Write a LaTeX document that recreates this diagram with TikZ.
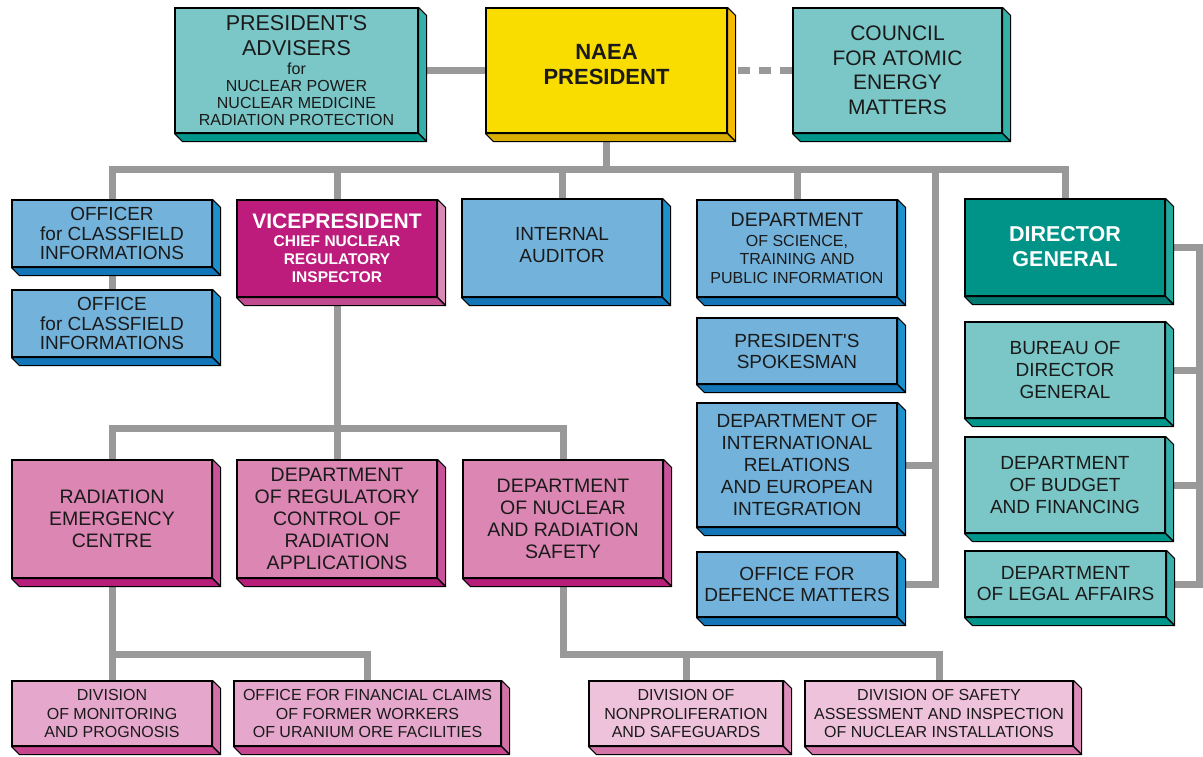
\documentclass[tikz,border=0pt]{standalone}
\usepackage{fontspec}
\setmainfont{Liberation Sans}[Ligatures=TeXOff]
\definecolor{tealF}{HTML}{7BC6C7}
\definecolor{tealS}{HTML}{35B0AA}
\definecolor{tealB}{HTML}{00968C}
\definecolor{yelF}{HTML}{FADD00}
\definecolor{yelS}{HTML}{F4BC00}
\definecolor{yelB}{HTML}{DAAE00}
\definecolor{bluF}{HTML}{72B2DB}
\definecolor{bluS}{HTML}{1C91CC}
\definecolor{bluB}{HTML}{1276B9}
\definecolor{vpF}{HTML}{BE1C7C}
\definecolor{vpS}{HTML}{DA88B6}
\definecolor{vpB}{HTML}{C24A8E}
\definecolor{dgF}{HTML}{009488}
\definecolor{dgS}{HTML}{22A99D}
\definecolor{dgB}{HTML}{007A70}
\definecolor{pkF}{HTML}{DC86B3}
\definecolor{pkS}{HTML}{C9529A}
\definecolor{pkB}{HTML}{B61E7A}
\definecolor{plF}{HTML}{E5A7CB}
\definecolor{plS}{HTML}{D271A8}
\definecolor{plB}{HTML}{C8468F}
\definecolor{pxF}{HTML}{EEC2DB}
\definecolor{pxS}{HTML}{DE8DBA}
\definecolor{pxB}{HTML}{D474A9}
\definecolor{lineG}{HTML}{999999}
\definecolor{txt}{HTML}{1A1A1A}
\newcommand\fs[2]{\fontsize{#1}{#2}\selectfont}
\pgfdeclarelayer{bg}
\pgfsetlayers{bg,main}
\tikzset{
  b3d/.style n args={3}{draw=black, line width=1.1pt, fill=#1, inner sep=0pt,
    align=center, text=txt, rectangle,
    append after command={\pgfextra{\let\mainnode=\tikzlastnode
      \filldraw[fill=#2, draw=black, line width=1.1pt, line join=round]
        (\mainnode.north east) -- ++(8,8) -- ([shift={(8,8)}]\mainnode.south east)
        -- (\mainnode.south east) -- cycle;
      \filldraw[fill=#3, draw=black, line width=1.1pt, line join=round]
        (\mainnode.south west) -- ++(8,8) -- ([shift={(8,8)}]\mainnode.south east)
        -- (\mainnode.south east) -- cycle;
    }}},
  tealbox/.style={b3d={tealF}{tealS}{tealB}},
  bluebox/.style={b3d={bluF}{bluS}{bluB}},
  pinkbox/.style={b3d={pkF}{pkS}{pkB}},
  plbox/.style={b3d={plF}{plS}{plB}},
  pxbox/.style={b3d={pxF}{pxS}{pxB}},
  conn/.style={draw=lineG, line width=7pt, line join=miter},
  big/.style={font=\fs{19}{22}},
  small/.style={font=\fs{16}{18.5}},
}
\begin{document}
\begin{tikzpicture}[x=1pt,y=-1pt]
\useasboundingbox (0,0) rectangle (1203,756);
% top row
\node[tealbox, minimum width=243, minimum height=125, font=\fs{16}{17}] (adv) at (296.5,70.5)
  {{\fs{21.5}{25}PRESIDENT'S}\\[8pt]{\fs{21.5}{25}ADVISERS}\\[2pt]for\\NUCLEAR POWER\\NUCLEAR MEDICINE\\RADIATION PROTECTION};
\node[b3d={yelF}{yelS}{yelB}, minimum width=241, minimum height=125, font=\bfseries\fs{22}{25}, text depth=12pt] (pres) at (606.5,70.5)
  {NAEA\\PRESIDENT};
\node[tealbox, minimum width=209, minimum height=125, font=\fs{21}{24.5}] (council) at (897.5,70.5)
  {COUNCIL\\FOR ATOMIC\\ENERGY\\MATTERS};
% second row
\node[bluebox, minimum width=200, minimum height=67, font=\fs{19}{19.5}] (off) at (112,233.5)
  {OFFICER\\for CLASSFIELD\\INFORMATIONS};
\node[bluebox, minimum width=200, minimum height=67, font=\fs{19}{19.5}] (ofc) at (112,323.5)
  {OFFICE\\for CLASSFIELD\\INFORMATIONS};
\node[b3d={vpF}{vpS}{vpB}, minimum width=200, minimum height=97, font=\bfseries\fs{15.5}{18}, text=white] (vp) at (337,248.5)
  {{\fs{21}{24}VICEPRESIDENT}\\CHIEF NUCLEAR\\REGULATORY\\INSPECTOR};
\node[bluebox, big, minimum width=200, minimum height=98, text depth=6pt] (ia) at (562,248)
  {INTERNAL\\AUDITOR};
\node[bluebox, minimum width=200, minimum height=97, font=\fs{16}{18.7}] (sci) at (797,248.5)
  {{\fs{19.5}{22}DEPARTMENT}\\[1pt]OF SCIENCE,\\TRAINING AND\\PUBLIC INFORMATION};
\node[b3d={dgF}{dgS}{dgB}, minimum width=200, minimum height=97, font=\bfseries\fs{21.5}{25}, text=white, text depth=3pt] (dg) at (1065,247.5)
  {DIRECTOR\\GENERAL};
% right column stacks
\node[bluebox, minimum width=200, minimum height=66, font=\fs{19}{21}] (spk) at (797,351)
  {PRESIDENT'S\\SPOKESMAN};
\node[bluebox, big, minimum width=200, minimum height=124] (intl) at (797,465)
  {DEPARTMENT OF\\INTERNATIONAL\\RELATIONS\\AND EUROPEAN\\INTEGRATION};
\node[bluebox, minimum width=200, minimum height=65, font=\fs{19}{21}] (def) at (797,584.5)
  {OFFICE FOR\\DEFENCE MATTERS};
\node[tealbox, big, minimum width=200, minimum height=96] (bur) at (1065,370)
  {BUREAU OF\\DIRECTOR\\GENERAL};
\node[tealbox, big, minimum width=200, minimum height=96] (bud) at (1065,485)
  {DEPARTMENT\\OF BUDGET\\AND FINANCING};
\node[tealbox, minimum width=201, minimum height=66, font=\fs{19}{21}] (leg) at (1065.5,584)
  {DEPARTMENT\\OF LEGAL AFFAIRS};
% pink level
\node[pinkbox, font=\fs{19.5}{22}, minimum width=200, minimum height=118] (rad) at (112,519)
  {RADIATION\\EMERGENCY\\CENTRE};
\node[pinkbox, font=\fs{19.5}{22}, minimum width=200, minimum height=118] (reg) at (337,519)
  {DEPARTMENT\\OF REGULATORY\\CONTROL OF\\RADIATION\\APPLICATIONS};
\node[pinkbox, font=\fs{19.5}{22}, minimum width=200, minimum height=118] (nsf) at (563,519)
  {DEPARTMENT\\OF NUCLEAR\\AND RADIATION\\SAFETY};
% bottom level
\node[plbox, small, minimum width=200, minimum height=65] (mon) at (112,713.5)
  {DIVISION\\OF MONITORING\\AND PROGNOSIS};
\node[plbox, small, minimum width=267, minimum height=65] (fin) at (367.5,713.5)
  {OFFICE FOR FINANCIAL CLAIMS\\OF FORMER WORKERS\\OF URANIUM ORE FACILITIES};
\node[pxbox, small, minimum width=194, minimum height=65] (np) at (686,713.5)
  {DIVISION OF\\NONPROLIFERATION\\AND SAFEGUARDS};
\node[pxbox, small, minimum width=268, minimum height=65] (sas) at (939,713.5)
  {DIVISION OF SAFETY\\ASSESSMENT AND INSPECTION\\OF NUCLEAR INSTALLATIONS};
% helper coordinates
\coordinate (bus) at (0,169);
\coordinate (bus2) at (0,428);
\coordinate (bus3) at (0,654);
\coordinate (rx) at (935,0);
\coordinate (ry) at (1199,0);
\begin{pgfonlayer}{bg}
\draw[conn] (adv) -- (pres);
\draw[conn, dash pattern=on 12pt off 9pt] ([xshift=10pt]pres.east) -- (council.west);
\draw[conn] (pres) -- (pres |- bus);
\draw[conn] (off) -- (off |- bus) -| (dg);
\draw[conn] (off) -- (ofc);
\draw[conn] (vp) -- (vp |- bus);
\draw[conn] (ia) -- (ia |- bus);
\draw[conn] (sci) -- (sci |- bus);
\draw[conn] (rx |- bus) -- (rx |- def) -- (def);
\draw[conn] (intl) -- (rx |- intl);
\draw[conn] (dg) -- (ry |- dg) -- (ry |- leg) -- (leg);
\draw[conn] (bur) -- (ry |- bur);
\draw[conn] (bud) -- (ry |- bud);
\draw[conn] (vp) -- (vp |- bus2);
\draw[conn] (rad) -- (rad |- bus2) -| (nsf);
\draw[conn] (reg) -- (reg |- bus2);
\draw[conn] (rad) -- (mon);
\draw[conn] (rad |- bus3) -| (fin);
\draw[conn] (nsf) -- (nsf |- bus3) -| (sas);
\draw[conn] (np) -- (np |- bus3);
\end{pgfonlayer}
\end{tikzpicture}
\end{document}
